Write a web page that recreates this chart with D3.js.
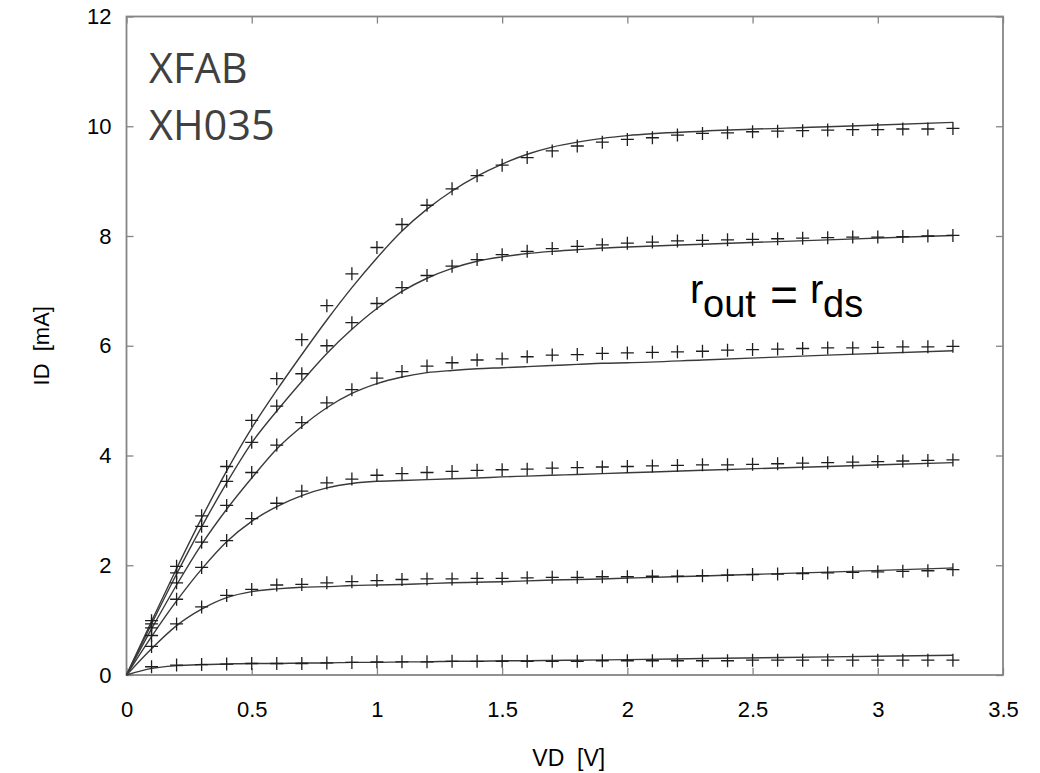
<!DOCTYPE html>
<html>
<head>
<meta charset="utf-8">
<script src="https://d3js.org/d3.v7.min.js"></script>
<style>
  body { margin: 0; background: #fff; }
  text { font-family: "Liberation Sans", Arial, sans-serif; }
</style>
</head>
<body>
<div class="chart"></div>
<script>
// measured points (+ markers), VD step 0.1 V
let vdMeas = [0.1, 0.2, 0.3, 0.4, 0.5, 0.6, 0.7, 0.8, 0.9, 1.0, 1.1, 1.2, 1.3, 1.4, 1.5, 1.6, 1.7,
  1.8, 1.9, 2.0, 2.1, 2.2, 2.3, 2.4, 2.5, 2.6, 2.7, 2.8, 2.9, 3.0, 3.1, 3.2, 3.3];
let meas1 = [0.99, 1.98, 2.90, 3.80, 4.64, 5.40, 6.11, 6.73, 7.31, 7.79, 8.21, 8.56, 8.86, 9.10, 9.29, 9.43, 9.55,
  9.64, 9.71, 9.76, 9.79, 9.84, 9.87, 9.88, 9.90, 9.91, 9.92, 9.93, 9.94, 9.94, 9.95, 9.95, 9.96];
let meas2 = [0.93, 1.86, 2.71, 3.53, 4.24, 4.90, 5.49, 6.00, 6.42, 6.77, 7.06, 7.28, 7.45, 7.57, 7.66, 7.72, 7.77,
  7.81, 7.84, 7.87, 7.89, 7.91, 7.92, 7.93, 7.94, 7.95, 7.96, 7.97, 7.98, 7.98, 7.99, 8.00, 8.01];
let meas3 = [0.86, 1.68, 2.42, 3.09, 3.69, 4.19, 4.60, 4.96, 5.20, 5.41, 5.53, 5.63, 5.69, 5.74, 5.76, 5.80, 5.83,
  5.84, 5.86, 5.87, 5.88, 5.89, 5.90, 5.92, 5.93, 5.94, 5.95, 5.96, 5.96, 5.97, 5.98, 5.98, 5.99];
let meas4 = [0.72, 1.38, 1.96, 2.45, 2.85, 3.13, 3.35, 3.50, 3.57, 3.64, 3.67, 3.69, 3.71, 3.73, 3.74, 3.75, 3.77,
  3.78, 3.79, 3.80, 3.81, 3.82, 3.83, 3.83, 3.84, 3.85, 3.86, 3.87, 3.88, 3.89, 3.90, 3.91, 3.92];
let meas5 = [0.52, 0.93, 1.24, 1.45, 1.56, 1.64, 1.65, 1.68, 1.70, 1.72, 1.74, 1.75, 1.75, 1.76, 1.76, 1.77, 1.78,
  1.78, 1.79, 1.79, 1.80, 1.80, 1.81, 1.82, 1.83, 1.84, 1.85, 1.86, 1.87, 1.88, 1.89, 1.90, 1.92];
let meas6 = [0.15, 0.18, 0.19, 0.20, 0.21, 0.21, 0.21, 0.22, 0.23, 0.24, 0.24, 0.24, 0.25, 0.25, 0.25, 0.25, 0.25,
  0.25, 0.26, 0.26, 0.26, 0.26, 0.26, 0.26, 0.27, 0.27, 0.27, 0.27, 0.27, 0.27, 0.27, 0.27, 0.27];

// simulated curves (solid lines)
let vdSim = [0, 0.1, 0.2, 0.3, 0.4, 0.5, 0.6, 0.7, 0.8, 0.9, 1.0, 1.1, 1.2, 1.3, 1.4, 1.5, 1.6, 1.7, 1.8, 1.9, 2.0, 2.3, 2.8, 3.3];
let sim1 = [0, 0.98, 1.94, 2.86, 3.72, 4.50, 5.19, 5.84, 6.47, 7.06, 7.60, 8.09, 8.49, 8.82, 9.09, 9.31, 9.49, 9.62, 9.71, 9.78, 9.83, 9.91, 9.99, 10.07];
let sim2 = [0, 0.93, 1.84, 2.70, 3.50, 4.23, 4.81, 5.35, 5.86, 6.30, 6.68, 6.99, 7.23, 7.41, 7.54, 7.62, 7.68, 7.72, 7.75, 7.78, 7.80, 7.85, 7.93, 8.01];
let sim3 = [0, 0.84, 1.64, 2.38, 3.02, 3.59, 4.12, 4.53, 4.87, 5.13, 5.31, 5.43, 5.51, 5.55, 5.58, 5.60, 5.62, 5.64, 5.66, 5.68, 5.69, 5.74, 5.83, 5.91];
let sim4 = [0, 0.70, 1.35, 1.93, 2.43, 2.80, 3.07, 3.27, 3.41, 3.49, 3.53, 3.545, 3.56, 3.575, 3.59, 3.61, 3.625, 3.64, 3.655, 3.67, 3.685, 3.73, 3.80, 3.87];
let sim5 = [0, 0.48, 0.90, 1.20, 1.41, 1.52, 1.57, 1.60, 1.61, 1.63, 1.64, 1.65, 1.665, 1.68, 1.69, 1.70, 1.715, 1.73, 1.74, 1.75, 1.765, 1.805, 1.875, 1.95];
let sim6 = [0, 0.12, 0.17, 0.19, 0.20, 0.21, 0.21, 0.22, 0.22, 0.23, 0.23, 0.24, 0.24, 0.25, 0.25, 0.26, 0.26, 0.265, 0.27, 0.275, 0.28, 0.30, 0.33, 0.36];

let xTicks = [0, 0.5, 1, 1.5, 2, 2.5, 3, 3.5];
let yTicks = [0, 2, 4, 6, 8, 10, 12];

let svgWidth = 1040;
let svgHeight = 773;
let margin = { top: 16.5, right: 37, bottom: 98, left: 126.5 };
let width = svgWidth - margin.left - margin.right;
let height = svgHeight - margin.top - margin.bottom;

let svg = d3.select(".chart")
  .append("svg")
  .attr("width", svgWidth)
  .attr("height", svgHeight);

let chartGroup = svg.append("g")
  .attr("transform", `translate(${margin.left}, ${margin.top})`);

let xScale = d3.scaleLinear().domain([0, 3.5]).range([0, width]);
let yScale = d3.scaleLinear().domain([0, 12]).range([height, 0]);

let frameColor = "#858585";
let tickLen = 7;

// axes with inward ticks on all four sides
function styleAxis(g) {
  g.select(".domain").remove();
  g.selectAll(".tick line").attr("stroke", frameColor).attr("stroke-width", 1.3);
  g.selectAll(".tick text").attr("fill", "#000").style("font-size", "22px")
    .style("font-family", "'Liberation Sans', Arial, sans-serif");
}

chartGroup.append("g")
  .attr("transform", `translate(0, ${height})`)
  .call(d3.axisBottom(xScale).tickValues(xTicks).tickFormat(d3.format("")).tickSize(-tickLen).tickPadding(26))
  .call(styleAxis);
chartGroup.append("g")
  .call(d3.axisTop(xScale).tickValues(xTicks).tickSize(-tickLen).tickFormat(""))
  .call(styleAxis);
chartGroup.append("g")
  .call(d3.axisLeft(yScale).tickValues(yTicks).tickSize(-tickLen).tickPadding(15))
  .call(styleAxis);
chartGroup.append("g")
  .attr("transform", `translate(${width}, 0)`)
  .call(d3.axisRight(yScale).tickValues(yTicks).tickSize(-tickLen).tickFormat(""))
  .call(styleAxis);

// frame
chartGroup.append("rect")
  .attr("x", 0).attr("y", 0)
  .attr("width", width).attr("height", height)
  .attr("fill", "none")
  .attr("stroke", frameColor)
  .attr("stroke-width", 1.8);

// simulated lines
let simSeries = [sim1, sim2, sim3, sim4, sim5, sim6];
let line = d3.line()
  .x((d, i) => xScale(vdSim[i]))
  .y(d => yScale(d))
  .curve(d3.curveMonotoneX);

chartGroup.selectAll(".sim")
  .data(simSeries)
  .enter()
  .append("path")
  .attr("class", "sim")
  .attr("d", d => line(d))
  .attr("fill", "none")
  .attr("stroke", "#3a3a3a")
  .attr("stroke-width", 1.4);

// measured markers
let measSeries = [meas1, meas2, meas3, meas4, meas5, meas6];
let points = [];
measSeries.forEach(s => s.forEach((v, i) => points.push({ x: vdMeas[i], y: v })));
let arm = 6.5;

chartGroup.selectAll(".meas")
  .data(points)
  .enter()
  .append("path")
  .attr("class", "meas")
  .attr("d", d => {
    let px = xScale(d.x), py = yScale(d.y);
    return `M${px - arm},${py}H${px + arm}M${px},${py - arm}V${py + arm}`;
  })
  .attr("fill", "none")
  .attr("stroke", "#1e1e1e")
  .attr("stroke-width", 1.3);

// axis titles
svg.append("text")
  .attr("x", margin.left + width / 2 + 4)
  .attr("y", 766)
  .attr("text-anchor", "middle")
  .style("font-size", "23px")
  .style("white-space", "pre")
  .text("VD  [V]");

svg.append("text")
  .attr("transform", `translate(49, ${margin.top + yScale(6)}) rotate(-90)`)
  .attr("text-anchor", "middle")
  .style("font-size", "22px")
  .style("white-space", "pre")
  .text("ID  [mA]");

// process labels
let procLabel = svg.append("g")
  .style("font-size", "41.5px")
  .attr("fill", "#404040");
procLabel.append("text").attr("x", 149).attr("y", 83).style("font-family", "'Open Sans', sans-serif").text("XFAB");
procLabel.append("text").attr("x", 149).attr("y", 140).style("font-family", "'Open Sans', sans-serif").text("XH035");

// r_out = r_ds
let eq = svg.append("g").attr("fill", "#000");
eq.append("text").attr("x", 690).attr("y", 303).style("font-size", "40px").text("r");
eq.append("text").attr("x", 703).attr("y", 317).style("font-size", "38px").text("out");
eq.append("text").attr("x", 770).attr("y", 311).style("font-size", "48px").text("=");
eq.append("text").attr("x", 810).attr("y", 303).style("font-size", "40px").text("r");
eq.append("text").attr("x", 823).attr("y", 317).style("font-size", "38px").text("ds");
</script>
</body>
</html>
